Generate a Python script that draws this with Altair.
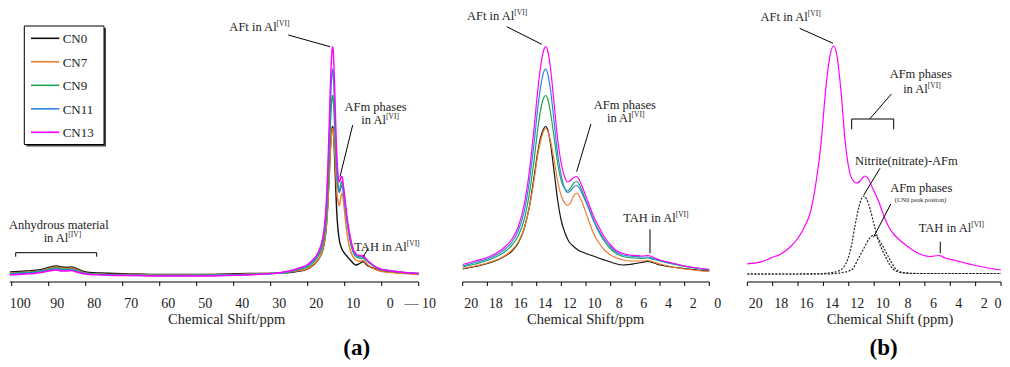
import altair as alt
import pandas as pd

FONT = "Liberation Serif"
TXT = "#222222"

# ---------------- series (panel a) ----------------
series_names = ["CN0", "CN7", "CN9", "CN11", "CN13"]
series_colors = ["#111111", "#ED7D31", "#1FA35B", "#2D87D6", "#FF00FF"]

ppm_far = [100.5, 98, 96, 94, 92, 90, 88, 86.5, 85, 84, 82.5, 81, 79, 76, 72, 66, 60, 54, 48, 42, 36, 32, 28, 25, 23, 21.5]
ppm_near = [20, 19, 18, 17, 16.5, 16, 15.5, 15, 14.6, 14.2, 13.9, 13.6, 13.4, 13.27, 13.1, 12.9, 12.6, 12.3, 12.0, 11.7,
            11.5, 11.3, 11.0, 10.75, 10.5, 10.2, 9.8, 9.4, 9.0, 8.5, 8.0, 7.5, 7.0, 6.5, 6.0, 5.5, 5.0, 4.5, 4.0, 3.0,
            2.0, 1.0, 0]
ppm_neg = [-1, -2.5, -4, -6, -8, -10]

cn0_far = [10, 10.5, 11, 11.5, 12.5, 14.5, 16, 15, 14.5, 15, 13.5, 11, 9.5, 9, 8.5, 8, 7.5, 7.5, 7.5, 8, 8.5, 8.5, 9, 9.5, 10.5, 11.5]
cn7_far = [9, 9.5, 10, 10.5, 11.5, 13.5, 15, 14, 13.5, 14, 12.5, 10, 8.5, 8, 7.5, 7.5, 7, 7, 7.5, 7.5, 8, 8.5, 9, 10, 11, 12]
cn9_far = [8.5, 9, 9.5, 10, 11, 12.5, 14, 13, 12.5, 13, 11.5, 9.5, 8, 7.5, 7, 7, 6.5, 6.5, 7, 7, 7.5, 8, 9, 10, 12, 13.5]
cn11_far = [8, 8.5, 9, 9.5, 10.5, 12, 13, 12, 12, 12.5, 11, 9, 8, 7.5, 7, 6.5, 6.5, 6.5, 6.5, 7, 7.5, 8, 9, 10.5, 12.5, 14.5]
cn13_far = [7, 7.5, 8, 8.5, 9.5, 11, 12, 11, 11, 11.5, 10, 8.5, 7.5, 7, 6.5, 6.5, 6, 6, 6, 6.5, 7, 8, 9, 11, 13, 15]

cn0_near = [13, 15.5, 18.5, 23, 26.5, 31, 39, 54, 75, 106, 131, 148, 154, 155.5, 152, 140, 112, 82, 61, 49,
            43, 39, 35.5, 33, 31, 29.5, 27.5, 26, 24, 22, 20, 18, 17, 17.5, 18.5, 19.5, 20.5, 19, 17, 15,
            13.5, 12, 11]
cn7_near = [13.5, 16, 19, 23.5, 27, 32, 40, 54, 74, 103, 128, 145, 152, 153.5, 151, 142, 123, 101, 86, 78.5,
            76.5, 78.5, 86, 89, 85, 76, 62, 49, 40, 32, 27, 24, 22, 21, 21, 21, 21.5, 20, 18, 15,
            13, 11.5, 10.5]
cn9_near = [15, 18, 21.5, 27, 31, 37, 46, 63, 88, 123, 154, 177, 185, 186.5, 183, 171, 146, 119, 101, 93,
            91, 93, 99, 100.5, 96.5, 87.5, 75, 62, 51, 40.5, 33, 28, 25.5, 24.5, 24, 23.5, 24, 22.5, 21, 18,
            15.5, 13.5, 12]
cn11_near = [16, 19.5, 23, 29, 33.5, 40, 51, 71, 100, 140, 175, 201, 211, 213, 208, 194, 162, 128, 106, 93,
             89.5, 90.5, 95, 96.5, 93, 85, 74, 62, 52.5, 42.5, 35, 29.5, 27, 26, 25.5, 25, 25, 23.5, 21.5, 18.5,
             16, 14, 12.5]
cn13_near = [17.5, 21, 24.5, 31, 36, 43, 55, 78, 110, 155, 193, 222, 233, 235.5, 231, 216, 180, 143, 118, 104,
             100, 101, 104.5, 105.5, 101, 92, 79, 66, 56, 45, 37, 31, 28.5, 27, 26.5, 26, 26.5, 24.5, 22, 19,
             16, 14, 12.5]

cn0_neg = [10.5, 10, 9.5, 9, 8.5, 8]
cn7_neg = [10, 9.5, 9, 8.5, 8, 7.5]
cn9_neg = [11.5, 11, 10, 9.5, 9, 8.5]
cn11_neg = [12, 11, 10.5, 9.5, 9, 8.5]
cn13_neg = [12, 11, 10.5, 9.5, 9, 8.5]

# ---------------- panel b ----------------
b_ppm = [20, 19, 18.4, 18, 17.5, 17, 16.5, 16, 15.5, 15, 14.6, 14.2, 13.8, 13.5, 13.2, 12.95, 12.6, 12.3, 12.0,
         11.7, 11.4, 11.1, 10.9, 10.7, 10.45, 10.2, 9.9, 9.6, 9.2, 8.8, 8.4, 8.0, 7.4, 6.8, 6.2, 5.6, 4.9, 4.4,
         3.6, 3.0, 2.0, 1.0, 0]
b_cn13 = [18.2, 19.8, 22.5, 24.8, 27, 31, 36.5, 44, 55, 71, 98, 137, 195, 225, 236, 227.5, 189, 142.5, 114,
          102, 99, 101, 104.5, 106, 103, 96, 88, 79, 65, 54, 47, 42, 36, 30.5, 27, 25.5, 26.5, 24,
          21.5, 19.5, 16.5, 14, 12]
nit_ppm = [20, 16, 14, 13.3, 12.8, 12.4, 12.1, 11.8, 11.5, 11.2, 11.0, 10.82, 10.6, 10.3, 10.0, 9.7, 9.4, 9.1,
           8.8, 8.5, 8.1, 7.6, 7.0, 5, 3, 1, 0]
nit_h = [8, 8, 8.5, 9.5, 11, 15, 22, 36, 57, 75, 83, 86, 83, 72, 57, 43, 33, 25, 18, 13, 10, 9, 8.5, 8.5, 8.5, 8.5, 8.5]
afm_ppm = [20, 14, 13, 12.5, 12.0, 11.7, 11.3, 10.8, 10.4, 10.0, 9.6, 9.2, 8.7, 8.3, 7.9, 7.4, 6.5, 4, 2, 0]
afm_h = [8, 8, 8.5, 9.5, 11, 13, 22, 34, 43, 47, 42, 33, 21, 13, 10, 9, 8.5, 8.5, 8.5, 8.5]

# ---------------- annotations ----------------
al_sup_text = ["AFt in Al", "in Al", "in Al", "TAH in Al"]
al_sup_sup = ["[VI]", "[IV]", "[VI]", "[VI]"]
al_sup_x = [28.4, 84.7, -1.16, -6.76]
al_sup_y = [251.3, 39.7, 157.7, 31.3]
al_c_text = ["Anhydrous material", "AFm phases"]
al_c_x = [87.27, 1.68]
al_c_y = [53.5, 171]
al_rule_x = [25.24, 7.84, 3.62]
al_rule_y = [247, 157, 33.7]
al_rule_x2 = [13.97, 11.27, 4.97]
al_rule_y2 = [235.3, 105.3, 25.3]
al_br_x = [98.92, 98.92, 77.03, 77.03]
al_br_y = [25.3, 29.3, 29.3, 25.3]

ar_sup_text = ["AFt in Al", "in Al", "TAH in Al"]
ar_sup_sup = ["[VI]", "[VI]", "[VI]"]
ar_sup_x = [15.82, 6.30, 2.73]
ar_sup_y = [262, 159.7, 59.7]
ar_c_text = ["AFm phases"]
ar_c_x = [6.85]
ar_c_y = [173.5]
ar_rule_x = [16.43, 9.6, 4.81]
ar_rule_y = [255.3, 158, 52.7]
ar_rule_x2 = [13.59, 10.76, 4.81]
ar_rule_y2 = [237.7, 110.3, 28.7]

b_sup_text = ["AFt in Al", "in Al", "TAH in Al"]
b_sup_sup = ["[VI]", "[VI]", "[VI]"]
b_sup_x = [15.23, 5.77, 2.35]
b_sup_y = [261.3, 189.5, 50]
b_c_text = ["AFm phases", "Nitrite(nitrate)-AFm", "AFm phases"]
b_c_x = [6.33, 7.46, 6.29]
b_c_y = [204, 117, 90.5]
b_small_text = ["(CN0 peak positon)"]
b_small_x = [6.35]
b_small_y = [80]
b_rule_x = [15.87, 8.64, 9.54, 8.69, 4.79]
b_rule_y = [253.7, 188, 113.7, 78, 40.3]
b_rule_x2 = [13.25, 10.35, 10.82, 10.05, 4.79]
b_rule_y2 = [238.7, 163, 87, 44.7, 28.7]
b_br_x = [11.77, 11.77, 8.46, 8.46]
b_br_y = [152.7, 163, 163, 152.7]

panel_labels = ["(a)", "(b)"]
panel_label_x = [6.76, 9.25]
panel_label_y = [-73, -73]

# ---------------- axes (ticks, labels, titles) ----------------
ticks_al = [100, 90, 80, 70, 60, 50, 40, 30, 20, 10, 0]
labels_al = ["100", "90", "80", "70", "60", "50", "40", "30", "20", "10", "0"]
edge_al = ([-10], ["\u2014 10"])
ticks_20 = [20, 18, 16, 14, 12, 10, 8, 6, 4, 2, 0]
labels_20 = ["20", "18", "16", "14", "12", "10", "8", "6", "4", "2", "0"]
ticks_b = [20, 18, 16, 14, 12, 10, 8, 6, 4, 2]
labels_b = ["20", "18", "16", "14", "12", "10", "8", "6", "4", "2"]
edge_b = ([0], ["0"])
title_al, title_al_x = "Chemical Shift/ppm", 41.9
title_ar, title_ar_x = "Chemical Shift/ppm", 10.03
title_b, title_b_x = "Chemical Shift (ppm)", 8.75
domain_al = [100.5, -10]
domain_20 = [20, 0]

# ---------------- data frames ----------------
far = {"CN0": cn0_far, "CN7": cn7_far, "CN9": cn9_far, "CN11": cn11_far, "CN13": cn13_far}
near = {"CN0": cn0_near, "CN7": cn7_near, "CN9": cn9_near, "CN11": cn11_near, "CN13": cn13_near}
neg = {"CN0": cn0_neg, "CN7": cn7_neg, "CN9": cn9_neg, "CN11": cn11_neg, "CN13": cn13_neg}
rows = []
for k, name in enumerate(series_names):
    ppm_all = ppm_far + ppm_near + ppm_neg
    h_all = far[name] + near[name] + neg[name]
    for p, h in zip(ppm_all, h_all):
        rows.append({"series": name, "k": k, "ppm": p, "h": h})
df_a = pd.DataFrame(rows)
df_ar = df_a[(df_a.ppm <= 20) & (df_a.ppm >= 0)]

df_bm = pd.DataFrame({"ppm": b_ppm, "h": b_cn13})
df_dot = pd.concat([
    pd.DataFrame({"ppm": nit_ppm, "h": nit_h, "curve": "nitrite"}),
    pd.DataFrame({"ppm": afm_ppm, "h": afm_h, "curve": "afm"}),
])

color_scale = alt.Scale(domain=series_names, range=series_colors)
yscale = alt.Scale(domain=[0, 274], range=[274, 0], nice=False, zero=False)

TICK_LEN = 4
LABEL_BASE = -25.5   # label baseline below the axis line (in y units = px)
TITLE_BASE = -41.5


def panel(xscale, domain, ticks, labels, title, title_x, df_lines, line_kw, sup, cen, rules,
          brackets=None, small=None, extra=None, dotted=None, edge=None, edge_dx=1.5):
    X = lambda f: alt.X(f"{f}:Q", scale=xscale, axis=None)
    Y = lambda f: alt.Y(f"{f}:Q", scale=yscale, axis=None)
    layers = []
    # axis line, ticks, labels, title
    dom = pd.DataFrame({"x": [domain[0]], "x2": [domain[1]], "y": [0]})
    layers.append(alt.Chart(dom).mark_rule(color="black", strokeWidth=1).encode(x=X("x"), x2="x2:Q", y=Y("y")))
    all_ticks = ticks + (edge[0] if edge else [])
    tdf = pd.DataFrame({"x": all_ticks, "y": [0] * len(all_ticks), "y2": [-TICK_LEN] * len(all_ticks)})
    layers.append(alt.Chart(tdf).mark_rule(color="black", strokeWidth=1).encode(x=X("x"), y=Y("y"), y2="y2:Q"))
    ldf = pd.DataFrame({"x": ticks, "t": labels, "y": [LABEL_BASE] * len(ticks)})
    layers.append(alt.Chart(ldf).mark_text(align="center", baseline="alphabetic", font=FONT, fontSize=14,
                                           dx=8.5, color=TXT).encode(x=X("x"), y=Y("y"), text="t:N"))
    if edge:
        ndf = pd.DataFrame({"x": edge[0], "t": edge[1], "y": [LABEL_BASE] * len(edge[0])})
        layers.append(alt.Chart(ndf).mark_text(align="center", baseline="alphabetic", font=FONT, fontSize=14,
                                               dx=edge_dx, color=TXT).encode(x=X("x"), y=Y("y"), text="t:N"))
    ttl = pd.DataFrame({"x": [title_x], "t": [title], "y": [TITLE_BASE]})
    layers.append(alt.Chart(ttl).mark_text(align="center", baseline="alphabetic", font=FONT, fontSize=14.5,
                                           color=TXT).encode(x=X("x"), y=Y("y"), text="t:N"))
    # spectra
    enc = {}
    if "series" in df_lines:
        enc = {"color": alt.Color("series:N", scale=color_scale, legend=None), "order": alt.Order("k:Q")}
    layers.append(alt.Chart(df_lines).mark_line(interpolate="monotone", **line_kw).encode(
        x=X("ppm"), y=Y("h"), **enc))
    if dotted is not None:
        layers.append(alt.Chart(dotted).mark_line(interpolate="monotone", color="#222", strokeWidth=1.2,
                                                  strokeDash=[2, 1.5]).encode(
            x=X("ppm"), y=Y("h"), detail="curve:N"))
    # annotations
    rdf = pd.DataFrame({"x": rules[0], "y": rules[1], "x2": rules[2], "y2": rules[3]})
    layers.append(alt.Chart(rdf).mark_rule(color="black", strokeWidth=1).encode(
        x=X("x"), y=Y("y"), x2="x2:Q", y2="y2:Q"))
    if brackets is not None:
        bdf = pd.DataFrame({"x": brackets[0], "y": brackets[1], "i": list(range(len(brackets[0])))})
        layers.append(alt.Chart(bdf).mark_line(color="black", strokeWidth=1).encode(
            x=X("x"), y=Y("y"), order="i:Q"))
    sdf = pd.DataFrame({"t": sup[0], "s": sup[1], "x": sup[2], "y": sup[3]})
    layers.append(alt.Chart(sdf).mark_text(align="right", baseline="alphabetic", font=FONT, fontSize=12.5,
                                           color=TXT).encode(x=X("x"), y=Y("y"), text="t:N"))
    layers.append(alt.Chart(sdf).mark_text(align="left", baseline="alphabetic", font=FONT, fontSize=7.5,
                                           dy=-5, color=TXT).encode(x=X("x"), y=Y("y"), text="s:N"))
    cdf = pd.DataFrame({"t": cen[0], "x": cen[1], "y": cen[2]})
    layers.append(alt.Chart(cdf).mark_text(align="center", baseline="alphabetic", font=FONT, fontSize=12.5,
                                           color=TXT).encode(x=X("x"), y=Y("y"), text="t:N"))
    if small is not None:
        smdf = pd.DataFrame({"t": small[0], "x": small[1], "y": small[2]})
        layers.append(alt.Chart(smdf).mark_text(align="center", baseline="alphabetic", font=FONT, fontSize=6.5,
                                                color=TXT).encode(x=X("x"), y=Y("y"), text="t:N"))
    if extra is not None:
        edf = pd.DataFrame({"t": extra[0], "x": extra[1], "y": extra[2]})
        layers.append(alt.Chart(edf).mark_text(align="center", baseline="alphabetic", font=FONT, fontSize=23,
                                               fontWeight="bold", color="black").encode(
            x=X("x"), y=Y("y"), text="t:N"))
    return layers


xs_al = alt.Scale(domain=domain_al, range=[1.85, 410.7], nice=False, zero=False)
xs_ar = alt.Scale(domain=domain_20, range=[454.7, 701.3], nice=False, zero=False)
xs_b = alt.Scale(domain=domain_20, range=[739.3, 993], nice=False, zero=False)

L_al = panel(xs_al, domain_al, ticks_al, labels_al, title_al, title_al_x, df_a, {"strokeWidth": 1.4},
             (al_sup_text, al_sup_sup, al_sup_x, al_sup_y), (al_c_text, al_c_x, al_c_y),
             (al_rule_x, al_rule_y, al_rule_x2, al_rule_y2), brackets=(al_br_x, al_br_y),
             extra=([panel_labels[0]], [panel_label_x[0]], [panel_label_y[0]]),
             edge=edge_al, edge_dx=1.5)
L_ar = panel(xs_ar, domain_20, ticks_20, labels_20, title_ar, title_ar_x, df_ar, {"strokeWidth": 1.2},
             (ar_sup_text, ar_sup_sup, ar_sup_x, ar_sup_y), (ar_c_text, ar_c_x, ar_c_y),
             (ar_rule_x, ar_rule_y, ar_rule_x2, ar_rule_y2))
L_b = panel(xs_b, domain_20, ticks_b, labels_b, title_b, title_b_x, df_bm, {"strokeWidth": 1.2, "color": "#FF00FF"},
            (b_sup_text, b_sup_sup, b_sup_x, b_sup_y), (b_c_text, b_c_x, b_c_y),
            (b_rule_x, b_rule_y, b_rule_x2, b_rule_y2), brackets=(b_br_x, b_br_y),
            small=(b_small_text, b_small_x, b_small_y),
            extra=([panel_labels[1]], [panel_label_x[1]], [panel_label_y[1]]), dotted=df_dot,
            edge=edge_b, edge_dx=-3)

# legend
one = pd.DataFrame({"k": [0]})
leg_df = pd.DataFrame({"series": series_names})
leg_y = alt.Y("series:N", scale=alt.Scale(type="point", domain=series_names, range=[30.3, 124.3], padding=0),
              axis=None)
L_leg = [
    alt.Chart(one).mark_rect(fill="#444444").encode(
        x=alt.value(18.3), x2=alt.value(98), y=alt.value(20), y2=alt.value(138.5)),
    alt.Chart(one).mark_rect(fill="white", stroke="black", strokeWidth=1).encode(
        x=alt.value(16.3), x2=alt.value(96), y=alt.value(18), y2=alt.value(136.5)),
    alt.Chart(leg_df).mark_rule(strokeWidth=1.6).encode(
        x=alt.value(23), x2=alt.value(51.3), y=leg_y,
        color=alt.Color("series:N", scale=color_scale, legend=None)),
    alt.Chart(leg_df).mark_text(align="left", baseline="middle", font=FONT, fontSize=13, color=TXT, dy=1).encode(
        x=alt.value(54.7), y=leg_y, text="series:N"),
]

chart = alt.layer(*(L_al + L_ar + L_b + L_leg)).resolve_scale(
    x="independent", y="independent").properties(
    width=994, height=274,
    autosize=alt.AutoSizeParams(type="none"),
    padding={"left": 0, "top": 0, "right": 0, "bottom": 84},
    background="white",
).configure_view(stroke=None)

chart.save("out.html", embed_options={"renderer": "svg", "actions": False})
